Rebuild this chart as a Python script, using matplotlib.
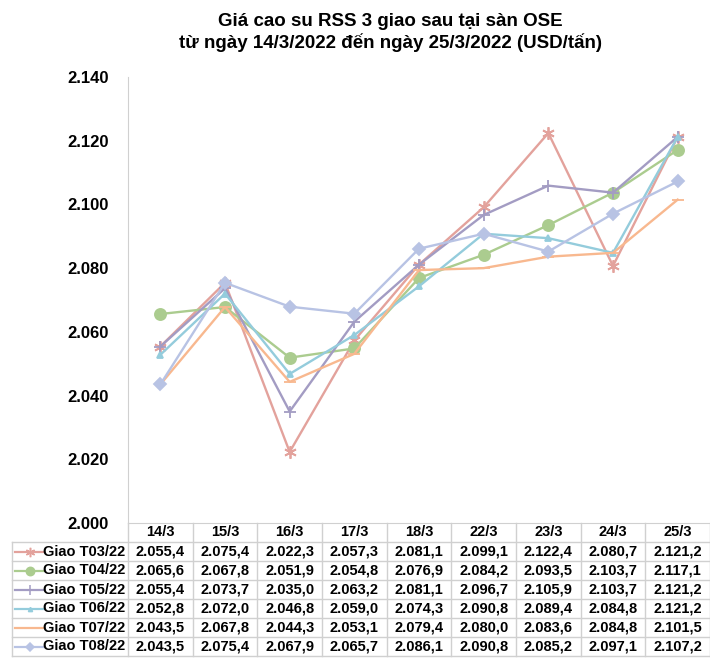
import matplotlib.pyplot as plt
from matplotlib.lines import Line2D

plt.rcParams['font.family'] = ['Liberation Sans', 'DejaVu Sans']

dates = ['14/3', '15/3', '16/3', '17/3', '18/3', '22/3', '23/3', '24/3', '25/3']
series_names = ['Giao T03/22', 'Giao T04/22', 'Giao T05/22',
                'Giao T06/22', 'Giao T07/22', 'Giao T08/22']
t03 = [2055.4, 2075.4, 2022.3, 2057.3, 2081.1, 2099.1, 2122.4, 2080.7, 2121.2]
t04 = [2065.6, 2067.8, 2051.9, 2054.8, 2076.9, 2084.2, 2093.5, 2103.7, 2117.1]
t05 = [2055.4, 2073.7, 2035.0, 2063.2, 2081.1, 2096.7, 2105.9, 2103.7, 2121.2]
t06 = [2052.8, 2072.0, 2046.8, 2059.0, 2074.3, 2090.8, 2089.4, 2084.8, 2121.2]
t07 = [2043.5, 2067.8, 2044.3, 2053.1, 2079.4, 2080.0, 2083.6, 2084.8, 2101.5]
t08 = [2043.5, 2075.4, 2067.9, 2065.7, 2086.1, 2090.8, 2085.2, 2097.1, 2107.2]
all_series = [t03, t04, t05, t06, t07, t08]

colors = ['#E3A29C', '#ABCC8F', '#A39CC3', '#94CCDC', '#F8B88F', '#B8C3E4']
markers = [(6, 2, 0), 'o', '+', '^', '_', 'D']
msizes = [9, 8, 9, 4, 8, 6]
grid_c = '#D0D0D0'


def vn(v, dec=1):
    s = f"{v:,.{dec}f}"
    return s.replace(',', '#').replace('.', ',').replace('#', '.')


fig = plt.figure(figsize=(7.1, 6.66), dpi=100)
W, H = 710, 666
left_px, right_px, top_px, bot_px = 128, 710, 77, 523
ax = fig.add_axes([left_px / W, 1 - bot_px / H,
                   (right_px - left_px) / W, (bot_px - top_px) / H])

x = list(range(len(dates)))
for vals, c, m, ms in zip(all_series, colors, markers, msizes):
    ax.plot(x, vals, color=c, lw=1.7, marker=m, markersize=ms,
            markeredgecolor=c, markerfacecolor=c, markeredgewidth=1.3,
            clip_on=False, zorder=3)

ax.set_xlim(-0.5, len(dates) - 0.5)
ax.set_ylim(2000, 2140)
yt = list(range(2000, 2141, 20))
ax.set_yticks(yt)
ax.set_yticklabels([vn(v, 0) for v in yt], fontsize=12, fontweight='bold')
ax.tick_params(axis='y', length=0, pad=14)
ax.set_xticks([])
for s in ['top', 'right']:
    ax.spines[s].set_visible(False)
ax.spines['left'].set_color(grid_c)
ax.spines['bottom'].set_color(grid_c)

# data table under the plot, drawn in pixel space of the figure
def fx(px):
    return px / W


def fy(py):
    return 1 - py / H


col_w = (right_px - left_px) / len(dates)
head_top, head_bot, row_h = bot_px, 542, 19.0
lab_left = 12
n = len(series_names)
tbl_bot = head_bot + n * row_h

def hline(y, x0, x1):
    fig.add_artist(Line2D([fx(x0), fx(x1)], [fy(y), fy(y)], color=grid_c, lw=1))


def vline(xp, y0, y1):
    fig.add_artist(Line2D([fx(xp), fx(xp)], [fy(y0), fy(y1)], color=grid_c, lw=1))


hline(head_bot, lab_left, right_px)
for i in range(1, n + 1):
    hline(head_bot + i * row_h, lab_left, right_px)
vline(lab_left, head_bot, tbl_bot)
for j in range(len(dates) + 1):
    vline(left_px + j * col_w, head_top, tbl_bot)

for j, d in enumerate(dates):
    fig.text(fx(left_px + (j + 0.5) * col_w), fy((head_top + head_bot) / 2), d,
             ha='center', va='center', fontsize=10.5, fontweight='bold')

for i, (name, vals, c, m, ms) in enumerate(zip(series_names, all_series,
                                               colors, markers, msizes)):
    yc = head_bot + (i + 0.5) * row_h
    fig.text(fx(left_px - 3), fy(yc), name, ha='right', va='center',
             fontsize=10.5, fontweight='bold')
    for j, v in enumerate(vals):
        fig.text(fx(left_px + (j + 0.5) * col_w), fy(yc), vn(v),
                 ha='center', va='center', fontsize=10.5, fontweight='bold')
    fig.add_artist(Line2D([fx(15), fx(44)], [fy(yc), fy(yc)], color=c, lw=1.6))
    fig.add_artist(Line2D([fx(29.5)], [fy(yc)], color=c, marker=m,
                          markersize=ms * 0.75, markeredgewidth=1.1,
                          markerfacecolor=c, markeredgecolor=c))

fig.text(390 / W, 1 - 21 / H, 'Giá cao su RSS 3 giao sau tại sàn OSE',
         ha='center', va='center', fontsize=13.5, fontweight='bold')
fig.text(390 / W, 1 - 43 / H, 'từ ngày 14/3/2022 đến ngày 25/3/2022 (USD/tấn)',
         ha='center', va='center', fontsize=13.5, fontweight='bold')

fig.savefig('out.png', dpi=100)
